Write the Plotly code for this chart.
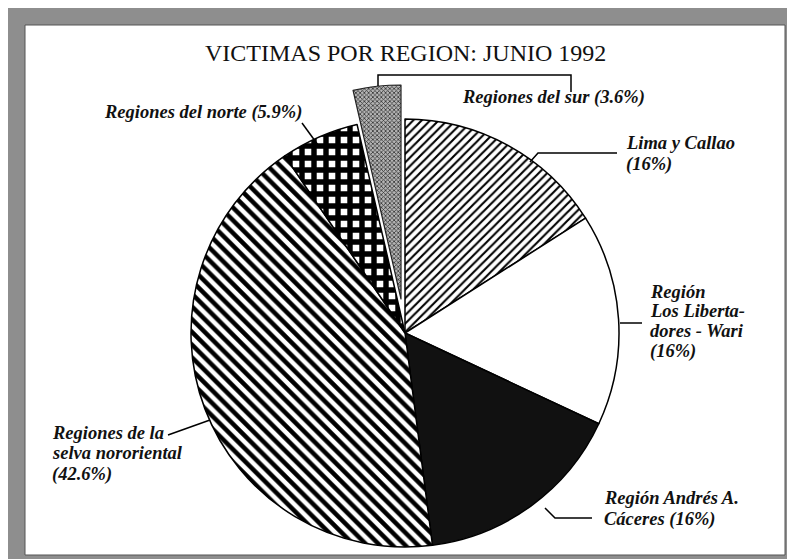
import plotly.graph_objects as go

# ---- data ----
regions = ["Lima y Callao", "Región Los Libertadores - Wari", "Región Andrés A. Cáceres",
           "Regiones de la selva nororiental", "Regiones del norte", "Regiones del sur"]
shares = [16, 16, 16, 42.6, 5.9, 3.6]
label_lines = [["Lima y Callao", "(16%)"],
               ["Región", "Los Liberta-", "dores - Wari", "(16%)"],
               ["Región Andrés A.", "Cáceres (16%)"],
               ["Regiones de la", "selva nororiental", "(42.6%)"],
               ["Regiones del norte (5.9%)"],
               ["Regiones del sur (3.6%)"]]
title_text = "VICTIMAS POR REGION: JUNIO 1992"

W, H = 795, 559
OFF = 8  # page body margin

def px(x):
    return (x - OFF) / W

def py(y):
    return 1 - (y - OFF) / H

# slice styling
bg = ["white", "white", "#111111", "white", "white", "#b4b4b4"]
fg = ["black", "black", "black", "black", "black", "#333333"]
shapes_p = ["/", "", "", "\\", "+", "x"]
sizes_p = [6, 8, 8, 9, 12, 3]
solid_p = [0.35, 0.3, 0.3, 0.5, 0.7, 0.45]

main_bg = bg[:-1] + ["rgba(0,0,0,0)"]
main_lw = [1.5] * 5 + [0]
main_shape = shapes_p[:-1] + [""]

cx, cy, r = 405, 333, 214
dom_x = [px(cx - r), px(cx + r)]
dom_y = [py(cy + r), py(cy - r)]

fig = go.Figure()
fig.add_trace(go.Pie(
    labels=regions, values=shares, sort=False, direction="clockwise", rotation=0,
    textinfo="none", hoverinfo="label+percent", showlegend=False,
    domain=dict(x=dom_x, y=dom_y),
    marker=dict(colors=main_bg,
                line=dict(color="black", width=main_lw),
                pattern=dict(shape=main_shape, fgcolor=fg, bgcolor=main_bg,
                             size=sizes_p, solidity=solid_p)),
))

# pulled-out "sur" slice
dx, dy = -4, -34
sur_bg = ["rgba(0,0,0,0)"] * 5 + [bg[-1]]
sur_lw = [0] * 5 + [1.2]
sur_shape = [""] * 5 + [shapes_p[-1]]
fig.add_trace(go.Pie(
    labels=regions, values=shares, sort=False, direction="clockwise", rotation=0,
    textinfo="none", hoverinfo="skip", showlegend=False,
    domain=dict(x=[px(cx - r + dx), px(cx + r + dx)], y=[py(cy + r + dy), py(cy - r + dy)]),
    marker=dict(colors=sur_bg,
                line=dict(color="#222222", width=sur_lw),
                pattern=dict(shape=sur_shape, fgcolor=fg, bgcolor=sur_bg,
                             size=sizes_p, solidity=solid_p)),
))

lab_font = dict(family="Liberation Serif", size=18.5, color="#111111", style="italic", weight="bold")

# label positions (pixels): x-left, y-center of each line
label_pos = [(624, [143, 165]),
             (648, [292, 311, 331, 351]),
             (602, [498, 519]),
             (50, [433, 453, 474]),
             (102, [112]),
             (460, [98])]
annos = []
for lines, (x, ys) in zip(label_lines, label_pos):
    for t, y in zip(lines, ys):
        annos.append(dict(text=t, x=px(x), y=py(y), xref="paper", yref="paper",
                          xanchor="left", yanchor="middle", align="left",
                          showarrow=False, font=lab_font))
annos.append(dict(text=title_text, x=px(405), y=py(53), xref="paper", yref="paper",
                  xanchor="center", yanchor="middle", showarrow=False,
                  font=dict(family="Liberation Serif", size=24, color="#111111")))

def path(points):
    d = "M " + " L ".join(f"{px(x):.5f},{py(y):.5f}" for x, y in points)
    return dict(type="path", path=d, xref="paper", yref="paper",
                line=dict(color="black", width=1.5))

leaders = [
    [(530, 162), (538, 153), (617, 153)],
    [(620, 323), (642, 323)],
    [(545, 508), (555, 518), (592, 518)],
    [(168, 435), (210, 420)],
    [(302, 123), (318, 145)],
    [(378, 86), (378, 75), (571, 75), (571, 92)],
]
shapes = []
# frame: grey band with white interior
shapes.append(dict(type="rect", xref="paper", yref="paper", x0=0, x1=1, y0=0, y1=1,
                   fillcolor="#8e8e8e", line=dict(width=0), layer="below"))
shapes.append(dict(type="rect", xref="paper", yref="paper",
                   x0=px(25), x1=px(785), y0=py(555), y1=py(25),
                   fillcolor="white", line=dict(color="#555555", width=1), layer="below"))
shapes += [path(p) for p in leaders]

fig.update_layout(width=W, height=H, margin=dict(l=0, r=0, t=0, b=0),
                  paper_bgcolor="white", plot_bgcolor="white",
                  annotations=annos, shapes=shapes)

fig.write_html("out.html")
